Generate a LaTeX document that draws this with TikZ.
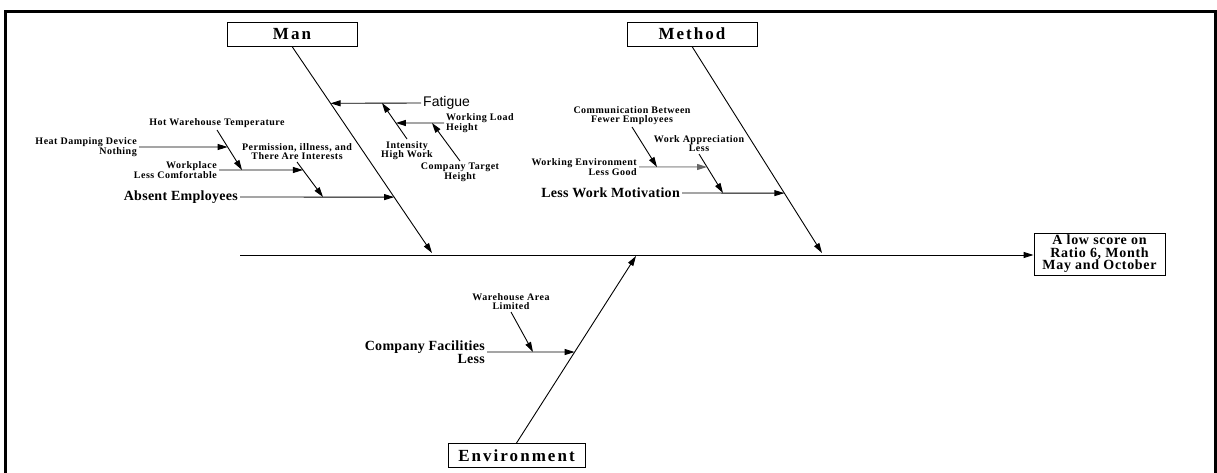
\documentclass[tikz,border=0pt]{standalone}
\usepackage{fontspec}
\setmainfont{Liberation Serif}
\newfontfamily\titlef{Liberation Serif}[LetterSpace=12]
\newfontfamily\bigf{Liberation Serif}[LetterSpace=2]
\newfontfamily\smallf{Liberation Serif}[LetterSpace=5]
\newfontfamily\effectf{Liberation Serif}[LetterSpace=5]
\newfontfamily\sansf{Liberation Sans}
\usetikzlibrary{arrows.meta,calc}
\begin{document}
\begin{tikzpicture}[x=1pt,y=-1pt,
  arr/.style={-{Triangle[length=10pt,width=6pt]}, line width=0.9pt},
  titlebox/.style={draw, line width=0.9pt, fill=white, inner sep=0pt,
    font=\titlef\bfseries\fontsize{17}{19}\selectfont, minimum height=24pt},
  lblsmall/.style={font=\smallf\bfseries\fontsize{10}{9.5}\selectfont, inner sep=2pt, align=center},
  lblbig/.style={font=\bigf\bfseries\fontsize{14}{12}\selectfont, inner sep=2pt}]
\useasboundingbox (0,0) rectangle (1217,473);
\draw[line width=3pt] (5.5,473) -- (5.5,11.5) -- (1215,11.5) -- (1215,473);

% heads
\node[titlebox, minimum width=130pt] (man) at (292,34) {Man};
\node[titlebox, minimum width=130pt] (method) at (692,34) {Method};
\node[titlebox, minimum width=137pt] (env) at (516.5,455.5) {Environment};
\node[draw, line width=0.9pt, minimum width=131pt, minimum height=42pt, align=center, inner sep=0pt,
  font=\effectf\bfseries\fontsize{14}{12.5}\selectfont] (effect) at (1099.5,254)
  {A low score on\\Ratio 6, Month\\May and October};

% spine
\coordinate (spineL) at (240,255);
\draw[arr] (spineL) -- (spineL -| effect.west);

% bones
\coordinate (manEnd) at (432,253);
\draw[arr] (man.south) -- (manEnd);
\coordinate (methodEnd) at (822,253);
\draw[arr] (method.south) -- (methodEnd);
\coordinate (envEnd) at (636,256);
\draw[arr] (env.north) -- (envEnd);

% Man, right side
\node[anchor=west, inner sep=2pt, font=\sansf\fontsize{14}{14}\selectfont] (fat) at (421,103) {Fatigue};
\coordinate (mb1) at ($(man.south)!{57/207}!(manEnd)$);
\draw[arr] (fat.west) -- (mb1);
\node[lblsmall, anchor=north] (int) at (407,139) {Intensity\\High Work};
\coordinate (f1) at (382,103);
\draw[arr] (int.north) -- (f1);
\node[lblsmall, anchor=west, align=left] (wlh) at (444,123) {Working Load\\Height};
\coordinate (i1) at ($(int.north)!{16/36}!(f1)$);
\draw[arr] (wlh.west) -- (i1);
\node[lblsmall, anchor=north] (ctg) at (460,161) {Company Target\\Height};
\coordinate (w1) at (432,123);
\draw[arr] (ctg.north) -- (w1);

% Man, left side
\node[lblbig, anchor=east] (abs) at (240,197) {Absent Employees};
\coordinate (mb2) at ($(man.south)!{151/207}!(manEnd)$);
\draw[arr] (abs.east) -- (mb2);
\node[lblsmall, anchor=south] (perm) at (297,162) {Permission, illness, and\\There Are Interests};
\coordinate (a1) at (323,197);
\draw[arr] (perm.south) -- (a1);
\node[lblsmall, anchor=east, align=right] (wlc) at (219,170) {Workplace\\Less Comfortable};
\coordinate (p1) at ($(perm.south)!{8/35}!(a1)$);
\draw[arr] (wlc.east) -- (p1);
\node[lblsmall, anchor=south] (hot) at (217,130) {Hot Warehouse Temperature};
\coordinate (wl1) at (242,170);
\draw[arr] (hot.south) -- (wl1);
\node[lblsmall, anchor=east, align=right] (heat) at (139,147) {Heat Damping Device\\Nothing};
\coordinate (h1) at ($(hot.south)!{17/40}!(wl1)$);
\draw[arr] (heat.east) -- (h1);

% Method
\node[lblbig, anchor=east] (lwm) at (682,193) {Less Work Motivation};
\coordinate (mt1) at ($(method.south)!{147/207}!(methodEnd)$);
\draw[arr] (lwm.east) -- (mt1);
\node[lblsmall, anchor=south] (wal) at (699,154) {Work Appreciation\\Less};
\coordinate (l1) at (723,193);
\draw[arr] (wal.south) -- (l1);
\node[lblsmall, anchor=east, align=right] (weg) at (639,167) {Working Environment\\Less Good};
\coordinate (wa1) at ($(wal.south)!{13/39}!(l1)$);
\draw[arr, draw=black!60, fill=black] (weg.east) -- (wa1);
\node[lblsmall, anchor=south] (com) at (632,127) {Communication Between\\Fewer Employees};
\coordinate (we1) at (657,167);
\draw[arr] (com.south) -- (we1);

% Environment
\node[lblbig, anchor=east, align=right] (cfl) at (487,352) {Company Facilities\\Less};
\coordinate (e1) at ($(env.north)!{91/187}!(envEnd)$);
\draw[arr] (cfl.east) -- (e1);
\node[lblsmall, anchor=south] (wal2) at (511,312) {Warehouse Area\\Limited};
\coordinate (c1) at (533,352);
\draw[arr] (wal2.south) -- (c1);
\end{tikzpicture}
\end{document}
